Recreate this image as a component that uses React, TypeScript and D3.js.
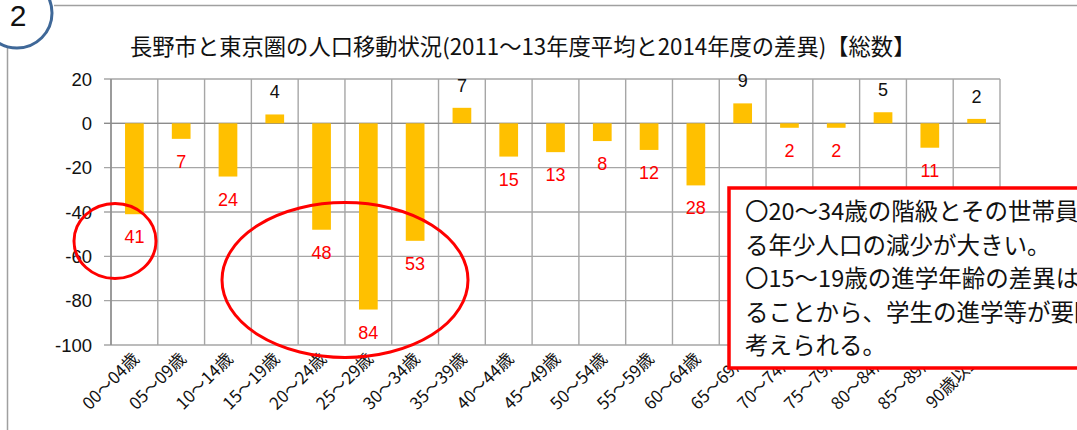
import React from "react";
import * as d3 from "d3";

const categories = [
  "00〜04歳", "05〜09歳", "10〜14歳", "15〜19歳", "20〜24歳", "25〜29歳", "30〜34歳",
  "35〜39歳", "40〜44歳", "45〜49歳", "50〜54歳", "55〜59歳", "60〜64歳", "65〜69歳",
  "70〜74歳", "75〜79歳", "80〜84歳", "85〜89歳", "90歳以上",
];
const values = [-41, -7, -24, 4, -48, -84, -53, 7, -15, -13, -8, -12, -28, 9, -2, -2, 5, -11, 2];
const yTicks = [20, 0, -20, -40, -60, -80, -100];
const title = "長野市と東京圏の人口移動状況(2011〜13年度平均と2014年度の差異)【総数】";
const noteLines = [
  "〇20〜34歳の階級とその世帯員であ",
  "る年少人口の減少が大きい。",
  "〇15〜19歳の進学年齢の差異は",
  "ることから、学生の進学等が要因と",
  "考えられる。",
];

const W = 1077;
const H = 430;
const font = "'Noto Sans CJK JP', 'Noto Sans', sans-serif";
const numFont = "'Liberation Sans', 'Noto Sans', sans-serif";

export default function App() {
  const x = d3.scaleBand<string>().domain(categories).range([111, 1000]).paddingInner(0).paddingOuter(0);
  const y = d3.scaleLinear().domain([-100, 20]).range([345, 79]);
  const bw = x.bandwidth() * 0.4;
  const grid = "#a6a6a6";

  return (
    <svg width={W} height={H} style={{ display: "block", position: "absolute", left: 0, top: 0 }}>
      <rect x={0} y={0} width={W} height={H} fill="#fff" />
      {/* frame lines */}
      <line x1={54} y1={5.5} x2={W} y2={5.5} stroke="#a0a0a0" strokeWidth={1.5} />
      <line x1={7.5} y1={48} x2={7.5} y2={H} stroke="#a0a0a0" strokeWidth={1.5} />
      <circle cx={17} cy={13} r={35} fill="#fff" stroke="#3f6898" strokeWidth={3} />
      <text x={18} y={26} textAnchor="middle" fontFamily={numFont} fontSize={30} fill="#111">2</text>

      {/* title */}
      <text x={130} y={55} fontFamily={font} fontSize={22.3} fill="#111">{title}</text>

      {/* horizontal gridlines */}
      {yTicks.map((t) => (
        <g key={"y" + t}>
          <line x1={104} x2={1000} y1={y(t)} y2={y(t)} stroke={grid} strokeWidth={1.4} />
          <text x={92} y={y(t) + 6.5} textAnchor="end" fontFamily={numFont} fontSize={18.5} fill="#111">{t}</text>
        </g>
      ))}
      {/* vertical gridlines */}
      {categories.map((c) => (
        <line key={"v" + c} x1={x(c)!} x2={x(c)!} y1={79} y2={345} stroke={grid} strokeWidth={1.4} />
      ))}
      <line x1={1000} x2={1000} y1={79} y2={345} stroke={grid} strokeWidth={1.4} />
      <line x1={111} x2={111} y1={79} y2={345} stroke="#8c8c8c" strokeWidth={1.4} />
      <line x1={104} x2={1000} y1={y(0)} y2={y(0)} stroke="#8c8c8c" strokeWidth={1.4} />

      {/* bars */}
      {values.map((v, i) => {
        const c = categories[i];
        const cx = x(c)! + x.bandwidth() / 2;
        return (
          <rect key={"b" + i} x={cx - bw / 2} width={bw}
            y={Math.min(y(v), y(0))} height={Math.abs(y(v) - y(0))} fill="#ffc000" />
        );
      })}
      {/* data labels */}
      {values.map((v, i) => {
        const c = categories[i];
        const cx = x(c)! + x.bandwidth() / 2;
        return v < 0 ? (
          <text key={"l" + i} x={cx} y={y(v) + 29} textAnchor="middle" fontFamily={numFont} fontSize={18} fill="#ff0000">{Math.abs(v)}</text>
        ) : (
          <text key={"l" + i} x={cx} y={y(v) - 16} textAnchor="middle" fontFamily={numFont} fontSize={18} fill="#111">{v}</text>
        );
      })}
      {/* x labels */}
      {categories.map((c) => {
        const cx = x(c)! + x.bandwidth() / 2 + 6;
        return (
          <text key={"x" + c} transform={`translate(${cx},${360}) rotate(-45)`} textAnchor="end"
            fontFamily={font} fontSize={17} fill="#111">{c}</text>
        );
      })}

      {/* red ellipses */}
      <ellipse cx={115} cy={241} rx={41} ry={37.5} fill="none" stroke="#ff0000" strokeWidth={3} />
      <ellipse cx={345} cy={280} rx={123} ry={77.5} fill="none" stroke="#ff0000" strokeWidth={3} />

      {/* note box */}
      <rect x={729} y={188} width={W} height={180} fill="#fff" stroke="#ff0000" strokeWidth={3.5} />
      {noteLines.map((l, i) => (
        <text key={"n" + i} x={745} y={220 + i * 33.5} fontFamily={font} fontSize={23.5} fill="#111">{l}</text>
      ))}
    </svg>
  );
}
